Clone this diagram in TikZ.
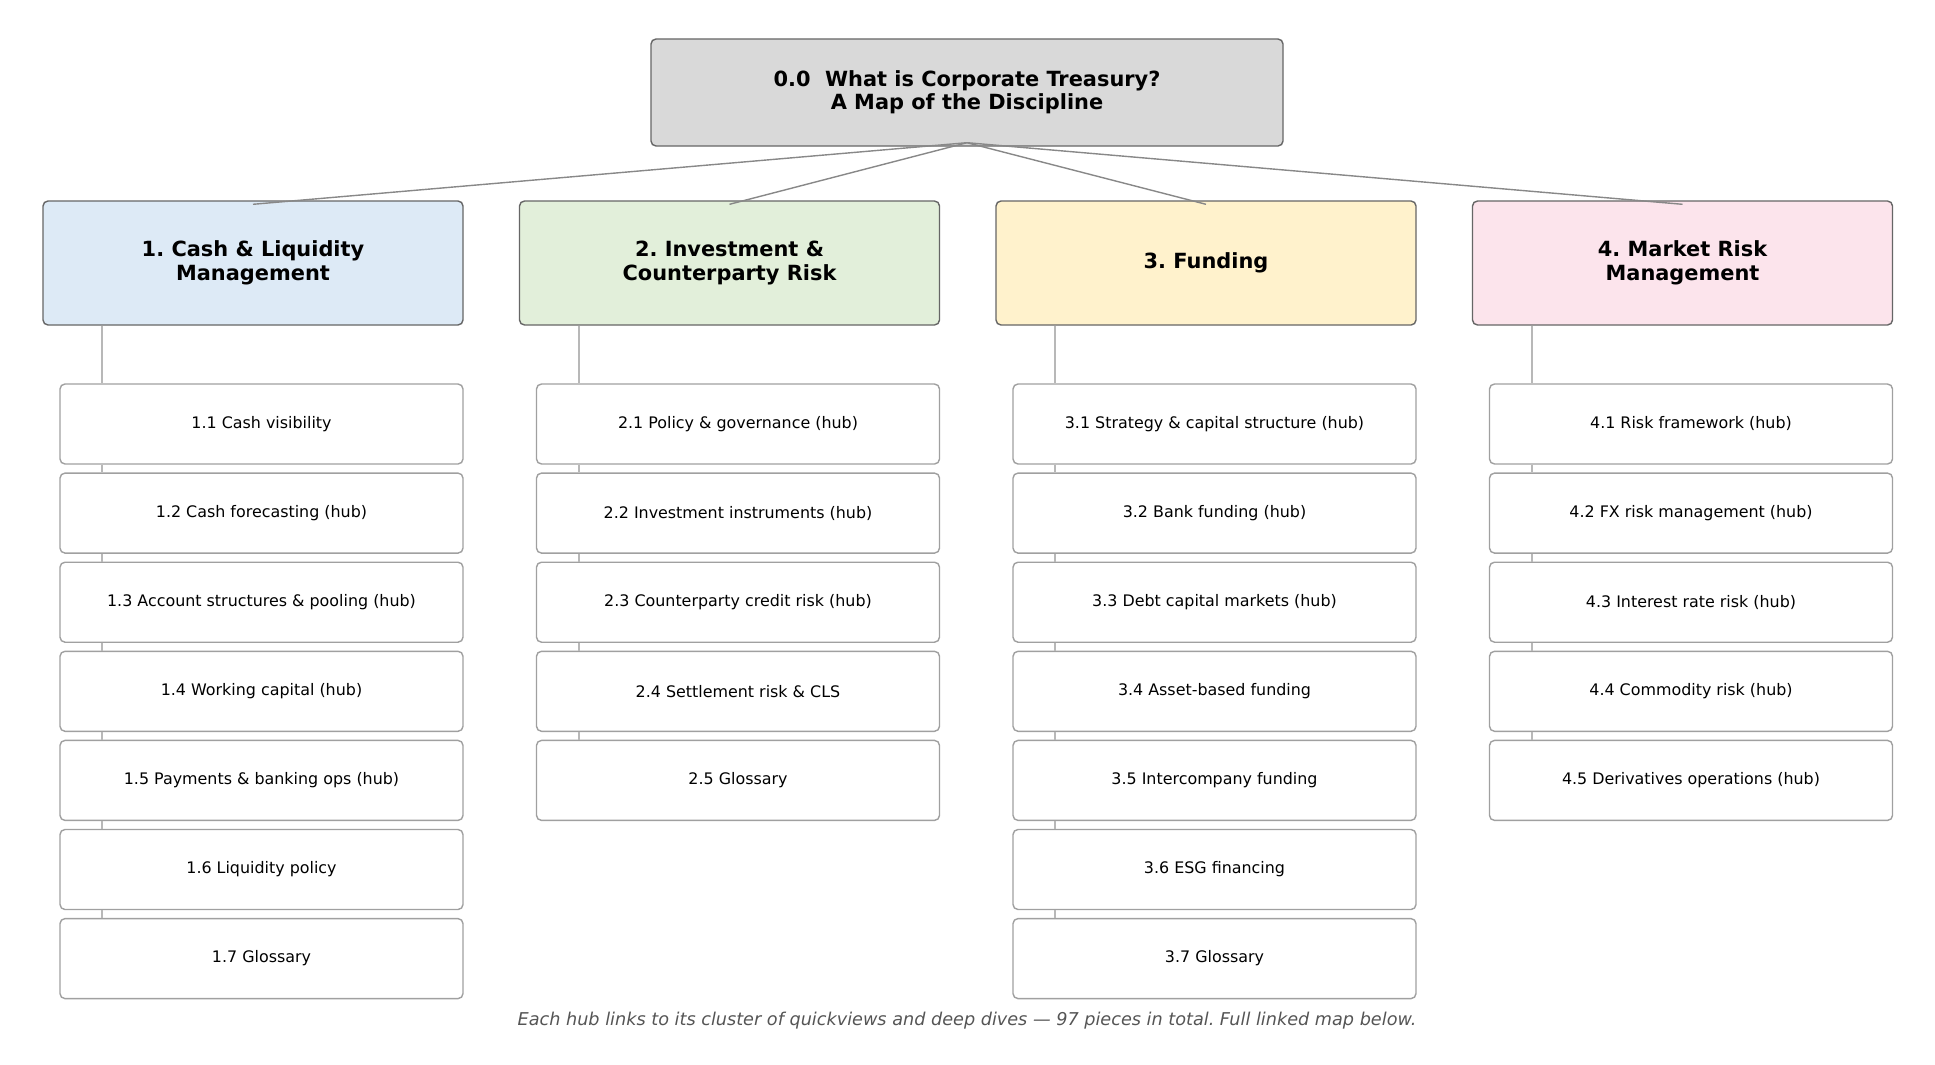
\documentclass[tikz,border=0pt]{standalone}
\usepackage{fontspec}
\setmainfont{DejaVu Sans}
\frenchspacing
\definecolor{topfill}{HTML}{D9D9D9}
\definecolor{catA}{HTML}{DDEAF6}
\definecolor{catB}{HTML}{E2EFDA}
\definecolor{catC}{HTML}{FFF2CC}
\definecolor{catD}{HTML}{FCE4EC}
\definecolor{boxedge}{HTML}{666666}
\definecolor{subedge}{HTML}{A0A0A0}
\definecolor{linkgray}{HTML}{888888}
\definecolor{trunkgray}{HTML}{B8B8B8}
\definecolor{notegray}{HTML}{555555}
\newcommand{\dn}[1]{\raisebox{-1.5pt}{#1}}
\tikzset{
  topbox/.style={rectangle, rounded corners=5pt, draw=boxedge, line width=1.4pt, fill=topfill,
    minimum width=632pt, minimum height=107pt, align=center,
    font=\fontsize{20.9pt}{23.4pt}\selectfont\bfseries, inner sep=0pt},
  catbox/.style={rectangle, rounded corners=5pt, draw=boxedge, line width=1.4pt,
    minimum width=420pt, minimum height=124pt, align=center,
    font=\fontsize{20.9pt}{23.4pt}\selectfont\bfseries, inner sep=0pt},
  subbox/.style={rectangle, rounded corners=5pt, draw=subedge, line width=1.4pt, fill=white,
    minimum width=403pt, minimum height=80pt, align=center,
    font=\fontsize{15.9pt}{18pt}\selectfont, inner sep=0pt},
  link/.style={draw=linkgray, line width=1.4pt},
  trunk/.style={draw=trunkgray, line width=2pt},
  note/.style={font=\fontsize{17.65pt}{20pt}\selectfont\itshape, text=notegray, inner sep=0pt}
}
\begin{document}
\begin{tikzpicture}[x=1pt,y=-1pt]
\useasboundingbox (0,0) rectangle (1935,1065);
\fill[white] (0,0) rectangle (1935,1065);

\node[topbox] (top) at (967,92.5) {\dn{0.0\ \ What is Corporate Treasury?}\\\dn{A Map of the Discipline}};

\node[catbox, fill=catA] (c1) at (253,263) {\dn{1. Cash \& Liquidity}\\\dn{Management}};
\node[catbox, fill=catB] (c2) at (729.5,263) {\dn{2. Investment \&}\\\dn{Counterparty Risk}};
\node[catbox, fill=catC] (c3) at (1206,263) {\dn{3. Funding}};
\node[catbox, fill=catD] (c4) at (1682.5,263) {\dn{4. Market Risk}\\\dn{Management}};

\foreach \c in {c1,c2,c3,c4}
  \draw[link] ([yshift=4pt]top.south) -- ([yshift=-4pt]\c.north);

\coordinate (t1a) at ([xshift=60pt]c1.south west);
\coordinate (t2a) at ([xshift=60pt]c2.south west);
\coordinate (t3a) at ([xshift=60pt]c3.south west);
\coordinate (t4a) at ([xshift=60pt]c4.south west);

\node[subbox] (s11) at (261.5,424)   {1.1 Cash visibility};
\node[subbox] (s12) at (261.5,513.1) {1.2 Cash forecasting (hub)};
\node[subbox] (s13) at (261.5,602.2) {1.3 Account structures \& pooling (hub)};
\node[subbox] (s14) at (261.5,691.3) {1.4 Working capital (hub)};
\node[subbox] (s15) at (261.5,780.4) {1.5 Payments \& banking ops (hub)};
\node[subbox] (s16) at (261.5,869.5) {1.6 Liquidity policy};
\node[subbox] (s17) at (261.5,958.6) {1.7 Glossary};

\node[subbox] (s21) at (738,424)   {2.1 Policy \& governance (hub)};
\node[subbox] (s22) at (738,513.1) {2.2 Investment instruments (hub)};
\node[subbox] (s23) at (738,602.2) {2.3 Counterparty credit risk (hub)};
\node[subbox] (s24) at (738,691.3) {2.4 Settlement risk \& CLS};
\node[subbox] (s25) at (738,780.4) {2.5 Glossary};

\node[subbox] (s31) at (1214.5,424)   {3.1 Strategy \& capital structure (hub)};
\node[subbox] (s32) at (1214.5,513.1) {3.2 Bank funding (hub)};
\node[subbox] (s33) at (1214.5,602.2) {3.3 Debt capital markets (hub)};
\node[subbox] (s34) at (1214.5,691.3) {3.4 Asset-based funding};
\node[subbox] (s35) at (1214.5,780.4) {3.5 Intercompany funding};
\node[subbox] (s36) at (1214.5,869.5) {3.6 ESG financing};
\node[subbox] (s37) at (1214.5,958.6) {3.7 Glossary};

\node[subbox] (s41) at (1691,424)   {4.1 Risk framework (hub)};
\node[subbox] (s42) at (1691,513.1) {4.2 FX risk management (hub)};
\node[subbox] (s43) at (1691,602.2) {4.3 Interest rate risk (hub)};
\node[subbox] (s44) at (1691,691.3) {4.4 Commodity risk (hub)};
\node[subbox] (s45) at (1691,780.4) {4.5 Derivatives operations (hub)};

\draw[trunk] (t1a) -- (t1a |- s11.north);
\draw[trunk] (t2a) -- (t2a |- s21.north);
\draw[trunk] (t3a) -- (t3a |- s31.north);
\draw[trunk] (t4a) -- (t4a |- s41.north);
\foreach \a/\b in {s11/s12,s12/s13,s13/s14,s14/s15,s15/s16,s16/s17,
                   s21/s22,s22/s23,s23/s24,s24/s25,
                   s31/s32,s32/s33,s33/s34,s34/s35,s35/s36,s36/s37,
                   s41/s42,s42/s43,s43/s44,s44/s45}
  \draw[trunk] ([xshift=43pt]\a.south west) -- ([xshift=43pt]\b.north west);

\node[note] (foot) at (967,1020.5) {Each hub links to its cluster of quickviews and deep dives — 97 pieces in total. Full linked map below.};
\end{tikzpicture}
\end{document}
